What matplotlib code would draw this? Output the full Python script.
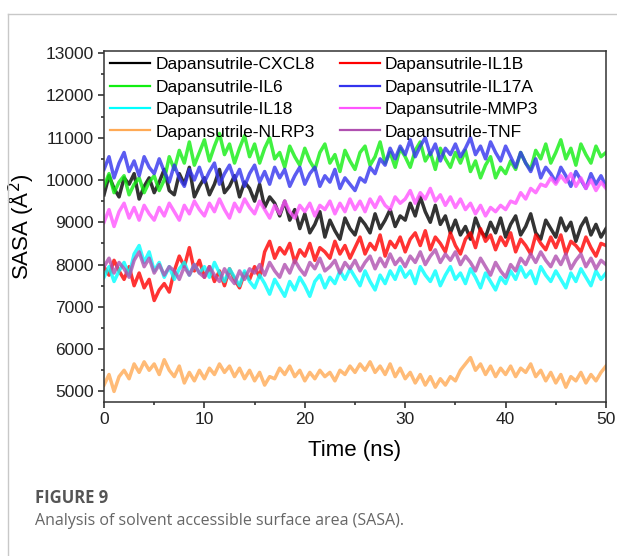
import numpy as np
import matplotlib
matplotlib.use("Agg")
from matplotlib import pyplot as plt
from matplotlib.ticker import MultipleLocator

# SASA values, one point every 0.5 ns (0..50 ns)
time_ns = np.linspace(0, 50, 101)

cxcl8 = [9650, 10100, 9800, 9600, 10050, 9900, 10150, 9550, 9850, 10050,
         9700, 9950, 10250, 9750, 9650, 10150, 9900, 10300, 9600, 9850,
         10050, 9650, 9900, 10250, 9700, 9850, 10100, 9600, 9950, 9800,
         9500, 9900, 9350, 9600, 9450, 9150, 9500, 9050, 9300, 8850,
         9200, 8750, 8950, 9250, 8650, 9050, 8800, 8600, 9100, 8850,
         8700, 9100, 8950, 8750, 9200, 8850, 9050, 9300, 8900, 9150,
         9050, 9450, 9150, 9600, 9250, 9000, 9400, 8950, 9150, 8750,
         9050, 8700, 8900, 8600, 9100, 8800, 8650, 9000, 8750, 9100,
         8650, 8950, 9150, 8700, 8900, 9200, 8750, 8600, 9050, 8850,
         8650, 9100, 8800, 9000, 8550, 8900, 9100, 8700, 8950, 8650,
         8850]
il1b = [7950, 7750, 8100, 7850, 7650, 7950, 7500, 7800, 7450, 7650,
        7150, 7400, 7550, 7350, 7850, 8200, 7950, 8400, 7850, 8100,
        7700, 7950, 7600, 7850, 7500, 7900, 7650, 7450, 7800, 7650,
        7950, 7700, 8300, 8550, 8150, 8400, 8250, 8500, 8050, 8350,
        8200, 8500, 8100, 8400, 8300, 8150, 8550, 8250, 8450, 8150,
        8400, 8650, 8250, 8500, 8350, 8700, 8200, 8550, 8400, 8650,
        8300, 8600, 8750, 8450, 8800, 8350, 8650, 8500, 8300, 8750,
        8450, 8250, 8600, 8750, 8400, 8850, 8550, 8700, 8350, 8650,
        8450, 8750, 8300, 8600, 8450, 8250, 8700, 8500, 8350, 8650,
        8400, 8700, 8250, 8550, 8450, 8300, 8650, 8400, 8200, 8500,
        8450]
il6 = [9850, 10150, 9700, 9950, 10100, 9650, 9900, 10050, 9700, 9950,
       10100, 9750, 10000, 10550, 10250, 10700, 10400, 10900, 10350, 10650,
       10950, 10450, 10800, 11100, 10600, 10850, 10400, 10750, 11050, 10550,
       10850, 10400, 10750, 11000, 10500, 10650, 10300, 10800, 10550, 10350,
       10750, 10450, 10250, 10650, 10850, 10400, 10600, 10200, 10700, 10450,
       10250, 10650, 10800, 10350, 10550, 10900, 10400, 10650, 10300, 10750,
       10550, 10300, 10700, 10900, 10450, 10650, 10250, 10750, 10500, 10300,
       10650, 10400, 10700, 10200, 10450, 10050, 10350, 10550, 10050, 10300,
       10150, 10450, 10250, 10650, 10400, 10250, 10700, 10500, 10850, 10400,
       10650, 10950, 10500, 10750, 10350, 10850, 10600, 10400, 10800, 10550,
       10650]
il17a = [10250, 10550, 10050, 10400, 10650, 10200, 10450, 10100, 10550, 10300,
         10150, 10500, 10200, 9950, 10350, 10050, 9850, 10250, 10000, 10300,
         9950, 10200, 10400, 9900, 10150, 10350, 10000, 10250, 9850, 10150,
         10350, 9950, 10200, 9900, 10300, 10050, 10250, 9850, 10100, 10300,
         9900, 10150, 10300, 9850, 10100, 9950, 10250, 9800, 10050, 9900,
         9750, 10050, 9950, 10300, 10150, 10500, 10350, 10750, 10500, 10800,
         10600, 10950, 10550, 10800, 11000, 10600, 10850, 10450, 10750, 10600,
         10850, 10550, 10750, 11000, 10600, 10800, 10500, 10900, 10650, 10450,
         10800, 10550, 10300, 10650, 10400, 10200, 10500, 10050, 10300, 10150,
         9950, 10300, 10100, 9850, 10200, 10000, 9800, 10150, 9900, 10100,
         9850]
il18 = [7700, 7950, 7600, 7850, 8050, 7750, 8250, 8450, 8050, 8300,
        7850, 8050, 7700, 7950, 7650, 7900, 8050, 7750, 8000, 7800,
        7950, 7700, 8050, 7800, 7600, 7900, 7700, 7500, 7850, 7600,
        7450, 7750, 7550, 7300, 7650, 7450, 7250, 7600, 7400, 7700,
        7500, 7250, 7600, 7750, 7450, 7700, 7550, 7850, 7650, 7900,
        7700, 7500, 7850, 7600, 7400, 7750, 7550, 7850, 7650, 7950,
        7700, 7850, 7550, 7950, 7750, 7600, 7850, 7500, 7750, 7950,
        7650, 7800, 7550, 7900, 7700, 7450, 7800, 7600, 7400, 7700,
        7550, 7850, 7650, 7950, 7700, 7850, 7550, 7950, 7750, 7600,
        7850, 7650, 7450, 7800, 7600, 7900, 7700, 7500, 7850, 7650,
        7800]
mmp3 = [9000, 9300, 8900, 9250, 9450, 9100, 9350, 9050, 9400, 9200,
        9050, 9350, 9150, 9450, 9250, 9050, 9400, 9200, 9500, 9300,
        9150, 9450, 9250, 9550, 9300, 9100, 9450, 9250, 9550, 9350,
        9200, 9500, 9300, 9100, 9400, 9200, 9500, 9250, 9100, 9400,
        9250, 9450, 9150, 9400, 9300, 9500, 9200, 9450, 9250, 9550,
        9300, 9500, 9250, 9550, 9350, 9600, 9400, 9300, 9600, 9450,
        9550, 9750, 9450, 9700, 9550, 9800, 9500, 9650, 9400, 9600,
        9350, 9550, 9300, 9450, 9200, 9400, 9150, 9350, 9250, 9400,
        9300, 9500, 9450, 9700, 9550, 9800, 9700, 9900, 9850, 10050,
        9900, 10100, 9950, 10150, 9850, 10050, 9800, 10000, 9750, 9950,
        9800]
nlrp3 = [5150, 5400, 5000, 5350, 5500, 5300, 5650, 5450, 5700, 5500,
         5650, 5400, 5750, 5500, 5350, 5600, 5200, 5450, 5250, 5500,
         5300, 5550, 5400, 5650, 5450, 5600, 5350, 5550, 5300, 5500,
         5250, 5450, 5150, 5350, 5300, 5550, 5400, 5600, 5350, 5500,
         5250, 5450, 5300, 5500, 5350, 5450, 5250, 5500, 5400, 5600,
         5450, 5650, 5500, 5700, 5450, 5600, 5400, 5650, 5350, 5550,
         5300, 5450, 5200, 5400, 5150, 5350, 5100, 5300, 5150, 5350,
         5250, 5500, 5650, 5800, 5500, 5650, 5400, 5600, 5350, 5550,
         5400, 5600, 5350, 5550, 5450, 5650, 5350, 5500, 5250, 5450,
         5200, 5400, 5100, 5350, 5250, 5450, 5200, 5400, 5250, 5450,
         5600]
tnf = [7950, 8150, 7800, 8050, 7900, 7700, 8100, 8300, 7950, 8150,
       7800, 8000, 7750, 7950, 7850, 7650, 7950, 7750, 8000, 7800,
       7700, 7950, 7750, 7600, 7900, 7700, 7550, 7850, 7650, 7900,
       7800, 8000, 7750, 8050, 7850, 7700, 8000, 7800, 8100, 7900,
       7750, 8050, 7900, 8150, 7850, 7950, 8100, 7800, 8050, 7900,
       8100, 7850, 8050, 8200, 7900, 8150, 7950, 8250, 8000, 8150,
       7950, 8200, 8050, 8300, 8000, 8200, 8350, 8050, 8250, 8100,
       8300, 8000, 8200, 8050, 7850, 8150, 7950, 7750, 8050, 7850,
       7700, 8000, 7850, 8150, 8000, 8250, 8050, 8300, 8100, 7950,
       8200, 8000, 8250, 7900, 8100, 8250, 7950, 8150, 7900, 8100,
       8000]

labels = ["Dapansutrile-CXCL8", "Dapansutrile-IL1B", "Dapansutrile-IL6",
          "Dapansutrile-IL17A", "Dapansutrile-IL18", "Dapansutrile-MMP3",
          "Dapansutrile-NLRP3", "Dapansutrile-TNF"]
series = [cxcl8, il1b, il6, il17a, il18, mmp3, nlrp3, tnf]
colors = ["#000000", "#ff0000", "#11ee11", "#3333ee",
          "#00ffff", "#ff55ff", "#ffaa55", "#b050b0"]

plt.rcParams['font.family'] = ['Liberation Sans', 'DejaVu Sans']

fig = plt.figure(figsize=(6.17, 5.56), dpi=100)

# light card border like the journal page
fig.add_artist(plt.Line2D([8 / 617, 1.0], [1 - 14 / 556, 1 - 14 / 556],
                          transform=fig.transFigure, color="#c8c8c8", lw=1.0))
fig.add_artist(plt.Line2D([8 / 617, 8 / 617], [0.0, 1 - 14 / 556],
                          transform=fig.transFigure, color="#c8c8c8", lw=1.0))

ax = fig.add_axes([104 / 617, 1 - 402 / 556, 502 / 617, 351 / 556])

lines = []
for vals, lab, col in zip(series, labels, colors):
    ln, = ax.plot(time_ns, vals, color=col, lw=2.5, alpha=0.8, label=lab)
    lines.append(ln)

ax.set_xlim(0, 50)
ax.set_ylim(4750, 13050)
ax.xaxis.set_major_locator(MultipleLocator(10))
ax.xaxis.set_minor_locator(MultipleLocator(5))
ax.yaxis.set_major_locator(MultipleLocator(1000))
ax.yaxis.set_minor_locator(MultipleLocator(500))
ax.tick_params(which='both', direction='out', top=False, right=False,
               width=1.1, labelsize=12.5, colors='#222222')
ax.tick_params(which='major', length=4)
ax.tick_params(which='minor', length=2.5)
for sp in ax.spines.values():
    sp.set_linewidth(1.1)
    sp.set_color('#333333')

ax.set_xlabel("Time (ns)", fontsize=16, labelpad=9)
ax.set_ylabel("SASA (Å$^2$)", fontsize=16)
ax.yaxis.set_label_coords(-68 / 502, 0.5)

# legend is filled row by row in the original: reorder for column-major fill
order = [0, 2, 4, 6, 1, 3, 5, 7]
leg = ax.legend([lines[i] for i in order], [labels[i] for i in order],
                ncol=2, loc='upper left', bbox_to_anchor=(0.0, 1.0),
                frameon=False, fontsize=12.5, handlelength=2.3,
                handletextpad=0.3, columnspacing=1.45, labelspacing=0.42,
                borderaxespad=0.15, borderpad=0.2)
for h in leg.get_lines():
    h.set_linewidth(1.6)
    h.set_alpha(1.0)

fig.text(35 / 617, 1 - 498 / 556, "FIGURE 9", family="Open Sans",
         fontsize=12, fontweight='bold', color="#555555", va='center')
fig.text(35 / 617, 1 - 521 / 556,
         "Analysis of solvent accessible surface area (SASA).",
         family="Open Sans", fontsize=11.5, color="#666666", va='center')

fig.savefig("out.png", dpi=100)
